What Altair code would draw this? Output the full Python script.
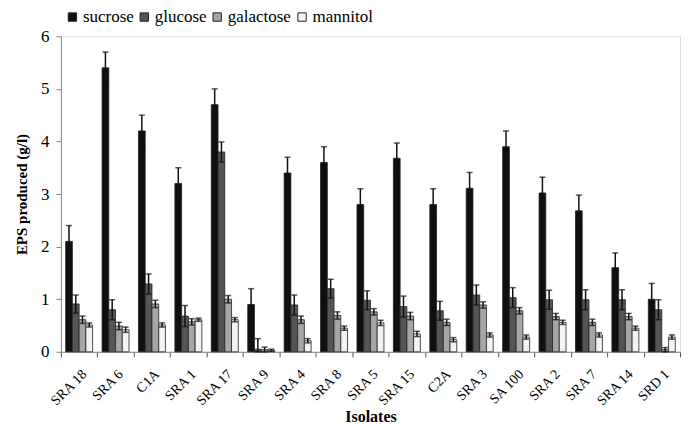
import altair as alt
import pandas as pd

isolates = ["SRA 18", "SRA 6", "C1A", "SRA 1", "SRA 17", "SRA 9", "SRA 4", "SRA 8",
            "SRA 5", "SRA 15", "C2A", "SRA 3", "SA 100", "SRA 2", "SRA 7", "SRA 14", "SRD 1"]
sugars = ["sucrose", "glucose", "galactose", "mannitol"]

sucrose = [2.1, 5.4, 4.2, 3.2, 4.7, 0.9, 3.4, 3.6, 2.8, 3.68, 2.8, 3.11, 3.9, 3.02, 2.68, 1.6, 1.0]
sucrose_err = [0.3, 0.3, 0.3, 0.3, 0.3, 0.3, 0.3, 0.3, 0.3, 0.29, 0.3, 0.3, 0.3, 0.3, 0.3, 0.28, 0.3]
glucose = [0.91, 0.8, 1.29, 0.68, 3.8, 0.05, 0.89, 1.2, 0.98, 0.86, 0.78, 1.08, 1.03, 0.99, 0.99, 0.99, 0.8]
glucose_err = [0.17, 0.19, 0.19, 0.2, 0.19, 0.2, 0.19, 0.18, 0.18, 0.2, 0.18, 0.19, 0.19, 0.18, 0.19, 0.19, 0.19]
galactose = [0.61, 0.49, 0.91, 0.57, 1.0, 0.04, 0.61, 0.69, 0.76, 0.68, 0.56, 0.89, 0.78, 0.67, 0.56, 0.67, 0.04]
galactose_err = [0.07, 0.07, 0.07, 0.06, 0.07, 0.05, 0.07, 0.07, 0.06, 0.07, 0.06, 0.06, 0.06, 0.06, 0.06, 0.06, 0.04]
mannitol = [0.51, 0.42, 0.51, 0.61, 0.61, 0.03, 0.21, 0.45, 0.55, 0.34, 0.23, 0.32, 0.28, 0.56, 0.32, 0.45, 0.28]
mannitol_err = [0.04, 0.05, 0.04, 0.03, 0.04, 0.02, 0.04, 0.04, 0.05, 0.05, 0.04, 0.04, 0.04, 0.04, 0.04, 0.04, 0.04]

colors = ["#0f0f0f", "#555555", "#a6a6a6", "#f3f3f3"]

series = [(sugars[0], sucrose, sucrose_err), (sugars[1], glucose, glucose_err),
          (sugars[2], galactose, galactose_err), (sugars[3], mannitol, mannitol_err)]
rows = []
for i, iso in enumerate(isolates):
    for name, vals, errs in series:
        v, e = vals[i], errs[i]
        rows.append({"isolate": iso, "sugar": name, "value": v,
                     "lo": max(v - e, 0), "hi": v + e})
df = pd.DataFrame(rows)

FONT = "Liberation Serif"

x = alt.X("isolate:N", sort=isolates,
          scale=alt.Scale(paddingInner=0, paddingOuter=0),
          axis=alt.Axis(title="Isolates", labelAngle=-45, tickBand="extent",
                        labelFont=FONT, titleFont=FONT,
                        labelFontSize=14, titleFontSize=16, titleFontWeight="bold",
                        labelColor="black", titleColor="black",
                        domainColor="#888888", tickColor="#555555",
                        tickSize=5, labelPadding=10, titlePadding=0))
xo = alt.XOffset("sugar:N", sort=sugars,
                 scale=alt.Scale(paddingOuter=0.7, paddingInner=0))
y_axis = alt.Axis(title="EPS produced (g/l)", values=[0, 1, 2, 3, 4, 5, 6], grid=False,
                  labelFont=FONT, titleFont=FONT,
                  labelFontSize=17, titleFontSize=15, titleFontWeight="bold",
                  labelColor="black", titleColor="black",
                  domainColor="#888888", tickColor="#888888",
                  tickSize=5, labelPadding=7, titlePadding=11)

base = alt.Chart(df)

bars = base.mark_bar(stroke="#222222", strokeWidth=0.8).encode(
    x=x, xOffset=xo,
    y=alt.Y("value:Q", scale=alt.Scale(domain=[0, 6], nice=False), axis=y_axis),
    color=alt.Color("sugar:N", sort=sugars,
                    scale=alt.Scale(domain=sugars, range=colors),
                    legend=alt.Legend(title=None, orient="none", direction="horizontal",
                                      legendX=3, legendY=-28, symbolType="square",
                                      symbolSize=70, symbolStrokeColor="#222222",
                                      symbolStrokeWidth=1, symbolOpacity=1,
                                      labelFont=FONT, labelFontSize=17, labelColor="black",
                                      columnPadding=2, labelOffset=2)),
)

rules = base.mark_rule(color="#111111", strokeWidth=1.5).encode(
    x=x, xOffset=xo, y="lo:Q", y2="hi:Q")
cap_hi = base.mark_tick(color="#111111", thickness=1.5, size=6, orient="horizontal").encode(
    x=x, xOffset=xo, y="hi:Q")
cap_lo = base.mark_tick(color="#111111", thickness=1.5, size=6, orient="horizontal").encode(
    x=x, xOffset=xo, y="lo:Q")

chart = alt.layer(bars, rules, cap_hi, cap_lo).properties(
    width=620, height=316,
    padding={"left": 6, "top": 0, "right": 0, "bottom": 0},
).configure_view(stroke=None).configure(font=FONT).configure_legend(
    labelFont=FONT, labelFontSize=17)

chart.save("out.html", embed_options={"renderer": "svg", "actions": False})
